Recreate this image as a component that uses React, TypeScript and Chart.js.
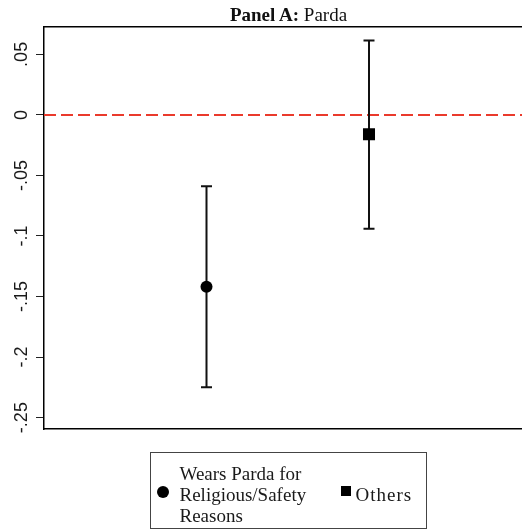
import React, { useEffect, useRef } from "react";
import { Chart, registerables } from "chart.js";

Chart.register(...registerables);

// ---- data ----
const CATEGORIES = ["Wears Parda for Religious/Safety Reasons", "Others"];
const CATEGORY_LINES = [["Wears Parda for", "Religious/Safety", "Reasons"], ["Others"]];
const X_POS = [1, 2];
const ESTIMATES = [-0.142, -0.016];
const CI_LOW = [-0.225, -0.094];
const CI_HIGH = [-0.059, 0.0615];
const MARKERS = ["circle", "rect"];
const Y_TICKS = [0.05, 0, -0.05, -0.1, -0.15, -0.2, -0.25];
const Y_TICK_LABELS = [".05", "0", "-.05", "-.1", "-.15", "-.2", "-.25"];
const Y_MIN = -0.2594;
const Y_MAX = 0.0726;
const X_MIN = 0;
const X_MAX = 3;
const REF_VALUE = 0;

const SERIF = "'Liberation Serif', 'Times New Roman', serif";
const SANS = "'Liberation Sans', Arial, sans-serif";

export default function App() {
  const canvasRef = useRef<HTMLCanvasElement | null>(null);

  useEffect(() => {
    const canvas = canvasRef.current;
    if (!canvas) return;

    const refLine = {
      type: "line",
      data: [
        { x: X_MIN, y: REF_VALUE },
        { x: X_MAX, y: REF_VALUE },
      ],
      showLine: true,
      borderColor: "#ea3a2c",
      borderWidth: 2,
      borderDash: [12, 5],
      pointRadius: 0,
      order: 10,
    };

    const errorBars = X_POS.map((x, i) => ({
      type: "line",
      data: [
        { x, y: CI_LOW[i] },
        { x, y: CI_HIGH[i] },
      ],
      showLine: true,
      borderColor: "#111",
      borderWidth: 2,
      pointStyle: "line",
      pointRadius: 5.5,
      pointBorderWidth: 2,
      pointBorderColor: "#111",
      order: 5,
    }));

    const markers = X_POS.map((x, i) => ({
      type: "scatter",
      label: CATEGORIES[i],
      data: [{ x, y: ESTIMATES[i] }],
      pointStyle: MARKERS[i],
      pointRadius: MARKERS[i] === "rect" ? 8.5 : 6,
      pointBackgroundColor: "#000",
      pointBorderColor: "#000",
      pointBorderWidth: 0,
      order: 0,
    }));

    const chart = new Chart(canvas, {
      type: "scatter",
      data: { datasets: [refLine, ...errorBars, ...markers] as any },
      options: {
        animation: false,
        responsive: false,
        devicePixelRatio: 1,
        layout: { padding: { left: 0, top: 27, right: 7, bottom: 102 } },
        plugins: {
          legend: { display: false },
          tooltip: { enabled: false },
          title: { display: false },
        },
        scales: {
          x: {
            type: "linear",
            position: "bottom",
            min: X_MIN,
            max: X_MAX,
            ticks: { display: false },
            grid: { display: false },
            border: { display: true, color: "#000", width: 1.5 },
            afterFit: (s: any) => {
              s.height = 0;
            },
          },
          xTop: {
            type: "linear",
            axis: "x",
            position: "top",
            min: X_MIN,
            max: X_MAX,
            ticks: { display: false },
            grid: { display: false },
            border: { display: true, color: "#000", width: 1.5 },
            afterFit: (s: any) => {
              s.height = 0;
            },
          },
          y: {
            type: "linear",
            position: "left",
            min: Y_MIN,
            max: Y_MAX,
            afterBuildTicks: (s: any) => {
              s.ticks = Y_TICKS.map((v) => ({ value: v }));
            },
            ticks: {
              callback: (v: any) => {
                const i = Y_TICKS.findIndex((t) => Math.abs(t - Number(v)) < 1e-9);
                return i >= 0 ? Y_TICK_LABELS[i] : "";
              },
              minRotation: 90,
              maxRotation: 90,
              crossAlign: "center",
              padding: -1.5,
              color: "#1a1a1a",
              font: { family: SANS, size: 18 },
            },
            grid: {
              drawOnChartArea: false,
              drawTicks: true,
              tickLength: 8,
              color: "#222",
              lineWidth: 1,
            },
            border: { display: true, color: "#000", width: 1.5 },
            afterFit: (s: any) => {
              s.width = 44;
            },
          },
        },
      } as any,
    });

    return () => chart.destroy();
  }, []);

  return (
    <div
      style={{
        position: "fixed",
        left: 0,
        top: 0,
        width: 522,
        height: 531,
        overflow: "hidden",
        background: "#fff",
      }}
    >
      <canvas
        ref={canvasRef}
        width={540}
        height={531}
        style={{ position: "absolute", left: 0, top: 0, width: 540, height: 531 }}
      />
      <div
        style={{
          position: "absolute",
          left: 44,
          width: 489,
          top: 4,
          textAlign: "center",
          fontFamily: SERIF,
          fontSize: 19,
          color: "#111",
          whiteSpace: "nowrap",
        }}
      >
        <b>Panel A:</b> Parda
      </div>
      <div
        style={{
          position: "absolute",
          left: 150,
          top: 452,
          width: 277,
          height: 77,
          boxSizing: "border-box",
          border: "1.5px solid #444",
          fontFamily: SERIF,
          fontSize: 19,
          color: "#1a1a1a",
        }}
      >
        <span
          style={{
            position: "absolute",
            left: 6,
            top: 33,
            width: 12,
            height: 12,
            borderRadius: "50%",
            background: "#000",
          }}
        />
        <div style={{ position: "absolute", left: 28.5, top: 9.5, lineHeight: "21px", whiteSpace: "nowrap" }}>
          {CATEGORY_LINES[0].map((l, i) => (
            <div key={i}>{l}</div>
          ))}
        </div>
        <span
          style={{
            position: "absolute",
            left: 189.5,
            top: 32.5,
            width: 10,
            height: 10,
            background: "#000",
          }}
        />
        <div
          style={{
            position: "absolute",
            left: 204.5,
            top: 30.5,
            lineHeight: "21px",
            whiteSpace: "nowrap",
            letterSpacing: 1,
          }}
        >
          {CATEGORY_LINES[1][0]}
        </div>
      </div>
    </div>
  );
}
